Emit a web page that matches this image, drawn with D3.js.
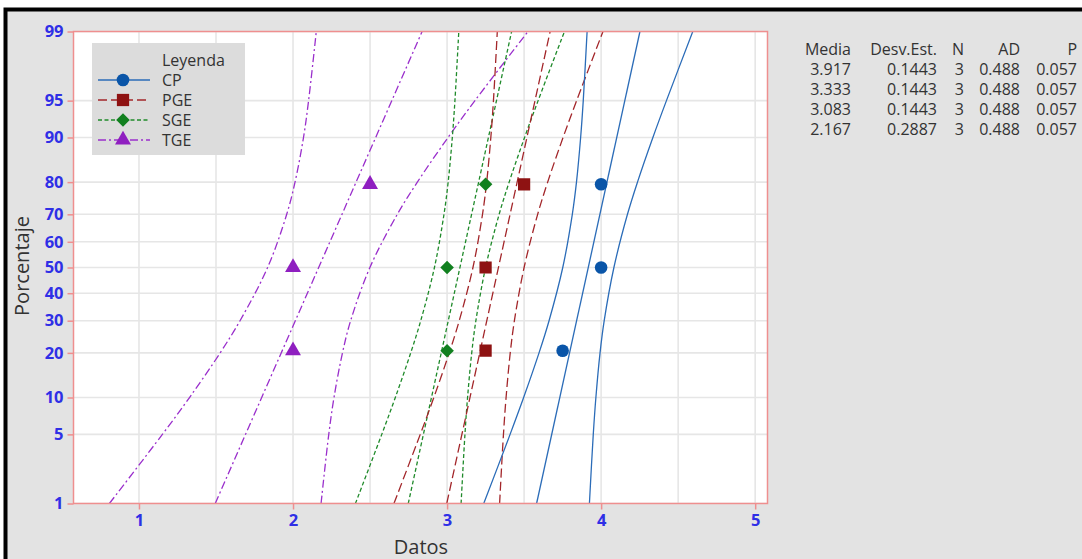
<!DOCTYPE html>
<html>
<head>
<meta charset="utf-8">
<script src="https://cdn.jsdelivr.net/npm/d3@7"></script>
<style>
  html, body { margin: 0; padding: 0; background: #ffffff; }
  svg { display: block; font-family: "Open Sans", "Noto Sans", sans-serif; }
</style>
</head>
<body>
<svg id="chart" width="1082" height="559"></svg>
<script>
// ---------------- DATA ----------------
const groups = ["CP", "PGE", "SGE", "TGE"];
const means = [3.917, 3.333, 3.083, 2.167];
const stdevs = ["0.1443", "0.1443", "0.1443", "0.2887"];
const nValues = [3, 3, 3, 3];
const adValues = ["0.488", "0.488", "0.488", "0.488"];
const pValues = ["0.057", "0.057", "0.057", "0.057"];

// observed data (x) and their plotting positions (percent)
const pointPercents = [20.6, 50, 79.4];
const cpPoints = [3.75, 4.0, 4.0];
const pgePoints = [3.25, 3.25, 3.5];
const sgePoints = [3.0, 3.0, 3.25];
const tgePoints = [2.0, 2.0, 2.5];

// fitted lines: x at 1% and at 99%
const fitPercents = [1, 99];
const cpFit = [3.581, 4.252];
const pgeFit = [2.998, 3.669];
const sgeFit = [2.748, 3.419];
const tgeFit = [1.495, 2.838];

// confidence bands, read at these percentiles
const bandPercents = [1, 5, 10, 20, 30, 50, 70, 80, 90, 95, 99];
const cpLower  = [3.238, 3.409, 3.497, 3.597, 3.662, 3.751, 3.813, 3.840, 3.867, 3.884, 3.909];
const cpUpper  = [3.924, 3.949, 3.966, 3.993, 4.020, 4.083, 4.171, 4.236, 4.336, 4.424, 4.595];
const pgeLower = [2.655, 2.826, 2.914, 3.014, 3.079, 3.168, 3.230, 3.257, 3.284, 3.301, 3.326];
const pgeUpper = [3.341, 3.366, 3.383, 3.410, 3.437, 3.500, 3.588, 3.653, 3.753, 3.841, 4.012];
const sgeLower = [2.405, 2.576, 2.664, 2.764, 2.829, 2.918, 2.980, 3.007, 3.034, 3.051, 3.076];
const sgeUpper = [3.091, 3.116, 3.133, 3.160, 3.187, 3.250, 3.338, 3.403, 3.503, 3.591, 3.762];
const tgeLower = [0.808, 1.152, 1.328, 1.527, 1.656, 1.835, 1.959, 2.013, 2.068, 2.101, 2.151];
const tgeUpper = [2.182, 2.232, 2.266, 2.321, 2.374, 2.499, 2.677, 2.807, 3.006, 3.181, 3.525];

// axis ticks
const xTicks = [1, 2, 3, 4, 5];
const xGrid = [1, 1.5, 2, 2.5, 3, 3.5, 4, 4.5, 5];
const yTicks = [1, 5, 10, 20, 30, 40, 50, 60, 70, 80, 90, 95, 99];

// ---------------- STYLE ----------------
const styles = {
  CP:  { line: "#2b6cb8", mark: "#0a55a8", dash: null,      shape: d3.symbolCircle,   size: 125, rot: 0 },
  PGE: { line: "#a3262a", mark: "#8e1212", dash: "9,4",     shape: d3.symbolSquare,   size: 150, rot: 0 },
  SGE: { line: "#1f8a2a", mark: "#11801f", dash: "4,2.5",   shape: d3.symbolSquare,   size: 92,  rot: 45 },
  TGE: { line: "#9a2fcc", mark: "#8f1fc0", dash: "8,3,2,3", shape: d3.symbolTriangle, size: 110, rot: 0 }
};

// inverse standard normal CDF (Acklam) for the probability scale transform
function probit(p) {
  const a = [-3.969683028665376e+01, 2.209460984245205e+02, -2.759285104469687e+02, 1.383577518672690e+02, -3.066479806614716e+01, 2.506628277459239e+00];
  const b = [-5.447609879822406e+01, 1.615858368580409e+02, -1.556989798598866e+02, 6.680131188771972e+01, -1.328068155288572e+01];
  const c = [-7.784894002430293e-03, -3.223964580411365e-01, -2.400758277161838e+00, -2.549671010243281e+00, 4.374664141464968e+00, 2.938163982698783e+00];
  const d = [7.784695709041462e-03, 3.224671290700398e-01, 2.445134137142996e+00, 3.754408661907416e+00];
  const pl = 0.02425, ph = 1 - pl;
  let q, r;
  if (p < pl) {
    q = Math.sqrt(-2 * Math.log(p));
    return (((((c[0]*q+c[1])*q+c[2])*q+c[3])*q+c[4])*q+c[5]) / ((((d[0]*q+d[1])*q+d[2])*q+d[3])*q+1);
  } else if (p <= ph) {
    q = p - 0.5; r = q * q;
    return (((((a[0]*r+a[1])*r+a[2])*r+a[3])*r+a[4])*r+a[5])*q / (((((b[0]*r+b[1])*r+b[2])*r+b[3])*r+b[4])*r+1);
  } else {
    q = Math.sqrt(-2 * Math.log(1 - p));
    return -(((((c[0]*q+c[1])*q+c[2])*q+c[3])*q+c[4])*q+c[5]) / ((((d[0]*q+d[1])*q+d[2])*q+d[3])*q+1);
  }
}

// ---------------- LAYOUT ----------------
const svg = d3.select("#chart");
const plot = { left: 73.5, right: 767.5, top: 31.5, bottom: 503.5 };

// frame and background
svg.append("rect").attr("x", 0).attr("y", 0).attr("width", 1082).attr("height", 559).attr("fill", "#ffffff");
svg.append("rect").attr("x", 5.5).attr("y", 9.5).attr("width", 1200).attr("height", 700)
  .attr("fill", "#e3e3e3").attr("stroke", "#000").attr("stroke-width", 4);

const x = d3.scaleLinear().domain([0.575, 5.08]).range([plot.left, plot.right]);
const zScale = d3.scaleLinear().domain([probit(0.01), probit(0.99)]).range([plot.bottom, plot.top]);
const y = pct => zScale(probit(pct / 100));

// plot area
svg.append("rect").attr("x", plot.left).attr("y", plot.top)
  .attr("width", plot.right - plot.left).attr("height", plot.bottom - plot.top)
  .attr("fill", "#ffffff");

svg.append("defs").append("clipPath").attr("id", "clip")
  .append("rect").attr("x", plot.left).attr("y", plot.top)
  .attr("width", plot.right - plot.left).attr("height", plot.bottom - plot.top);

// grid
const grid = svg.append("g");
grid.selectAll(".vg").data(xGrid).enter().append("line")
  .attr("x1", d => x(d)).attr("x2", d => x(d))
  .attr("y1", plot.top).attr("y2", plot.bottom)
  .attr("stroke", "#e6e6e6").attr("stroke-width", 1.6);
grid.selectAll(".hg").data(yTicks).enter().append("line")
  .attr("x1", plot.left).attr("x2", plot.right)
  .attr("y1", d => y(d)).attr("y2", d => y(d))
  .attr("stroke", "#e6e6e6").attr("stroke-width", 1.6);

// data layers
const layer = svg.append("g").attr("clip-path", "url(#clip)");
const lineGen = d3.line().x(d => x(d[0])).y(d => y(d[1])).curve(d3.curveCatmullRom.alpha(0.5));

const fits = [cpFit, pgeFit, sgeFit, tgeFit];
const lowers = [cpLower, pgeLower, sgeLower, tgeLower];
const uppers = [cpUpper, pgeUpper, sgeUpper, tgeUpper];
const pts = [cpPoints, pgePoints, sgePoints, tgePoints];

groups.slice().reverse().forEach(g => {
  const i = groups.indexOf(g);
  const st = styles[g];
  const series = [
    fits[i].map((v, k) => [v, fitPercents[k]]),
    lowers[i].map((v, k) => [v, bandPercents[k]]),
    uppers[i].map((v, k) => [v, bandPercents[k]])
  ];
  series.forEach(s => {
    layer.append("path").attr("d", lineGen(s))
      .attr("fill", "none").attr("stroke", st.line).attr("stroke-width", 1.3)
      .attr("stroke-dasharray", st.dash);
  });
});

groups.forEach((g, i) => {
  const st = styles[g];
  layer.selectAll(".pt" + g).data(pts[i]).enter().append("path")
    .attr("d", d3.symbol().type(st.shape).size(st.size))
    .attr("transform", (d, k) => `translate(${x(d)},${y(pointPercents[k])}) rotate(${st.rot})`)
    .attr("fill", st.mark);
});

// plot border
svg.append("rect").attr("x", plot.left).attr("y", plot.top)
  .attr("width", plot.right - plot.left).attr("height", plot.bottom - plot.top)
  .attr("fill", "none").attr("stroke", "#ef8f8f").attr("stroke-width", 1.5);

// axes
const xAxis = svg.append("g").attr("transform", `translate(0,${plot.bottom})`)
  .call(d3.axisBottom(x).tickValues(xTicks).tickSize(6).tickPadding(5).tickFormat(d3.format("d")));
const yAxis = svg.append("g").attr("transform", `translate(${plot.left},0)`)
  .call(d3.axisLeft(zScale).tickValues(yTicks.map(p => probit(p / 100))).tickSize(6).tickPadding(4)
    .tickFormat((d, k) => String(yTicks[k])));
[xAxis, yAxis].forEach(ax => {
  ax.select(".domain").remove();
  ax.selectAll(".tick line").attr("stroke", "#ef8f8f").attr("stroke-width", 1.5);
  ax.selectAll(".tick text").attr("fill", "#2f2fe6").attr("font-size", 16.5)
    .attr("font-weight", 700).attr("font-family", "'Open Sans', 'Noto Sans', sans-serif");
});

// axis titles
svg.append("text").attr("x", 421).attr("y", 554).attr("text-anchor", "middle")
  .attr("font-size", 20).attr("fill", "#333").text("Datos");
svg.append("text").attr("transform", "translate(29,266) rotate(-90)").attr("text-anchor", "middle")
  .attr("font-size", 20).attr("fill", "#333").text("Porcentaje");

// legend
const lg = svg.append("g");
lg.append("rect").attr("x", 92).attr("y", 43).attr("width", 153).attr("height", 112).attr("fill", "#dcdcdc");
lg.append("text").attr("x", 162).attr("y", 66).attr("font-size", 16).attr("fill", "#333").text("Leyenda");
groups.forEach((g, i) => {
  const st = styles[g];
  const cy = 80 + i * 20;
  lg.append("line").attr("x1", 98).attr("x2", 150).attr("y1", cy).attr("y2", cy)
    .attr("stroke", st.line).attr("stroke-width", 1.3).attr("stroke-dasharray", st.dash);
  lg.append("path").attr("d", d3.symbol().type(st.shape).size(st.size))
    .attr("transform", `translate(123,${cy}) rotate(${st.rot})`).attr("fill", st.mark);
  lg.append("text").attr("x", 162).attr("y", cy + 6).attr("font-size", 16).attr("fill", "#333").text(g);
});

// statistics table
const headers = ["Media", "Desv.Est.", "N", "AD", "P"];
const colRight = [851, 937, 964, 1020, 1077];
const tbl = svg.append("g").attr("font-size", 16).attr("fill", "#333").attr("text-anchor", "end");
headers.forEach((h, j) => tbl.append("text").attr("x", colRight[j]).attr("y", 55).text(h));
groups.forEach((g, i) => {
  const row = [means[i].toFixed(3), stdevs[i], String(nValues[i]), adValues[i], pValues[i]];
  row.forEach((v, j) => tbl.append("text").attr("x", colRight[j]).attr("y", 75 + i * 20).text(v));
});
</script>
</body>
</html>
